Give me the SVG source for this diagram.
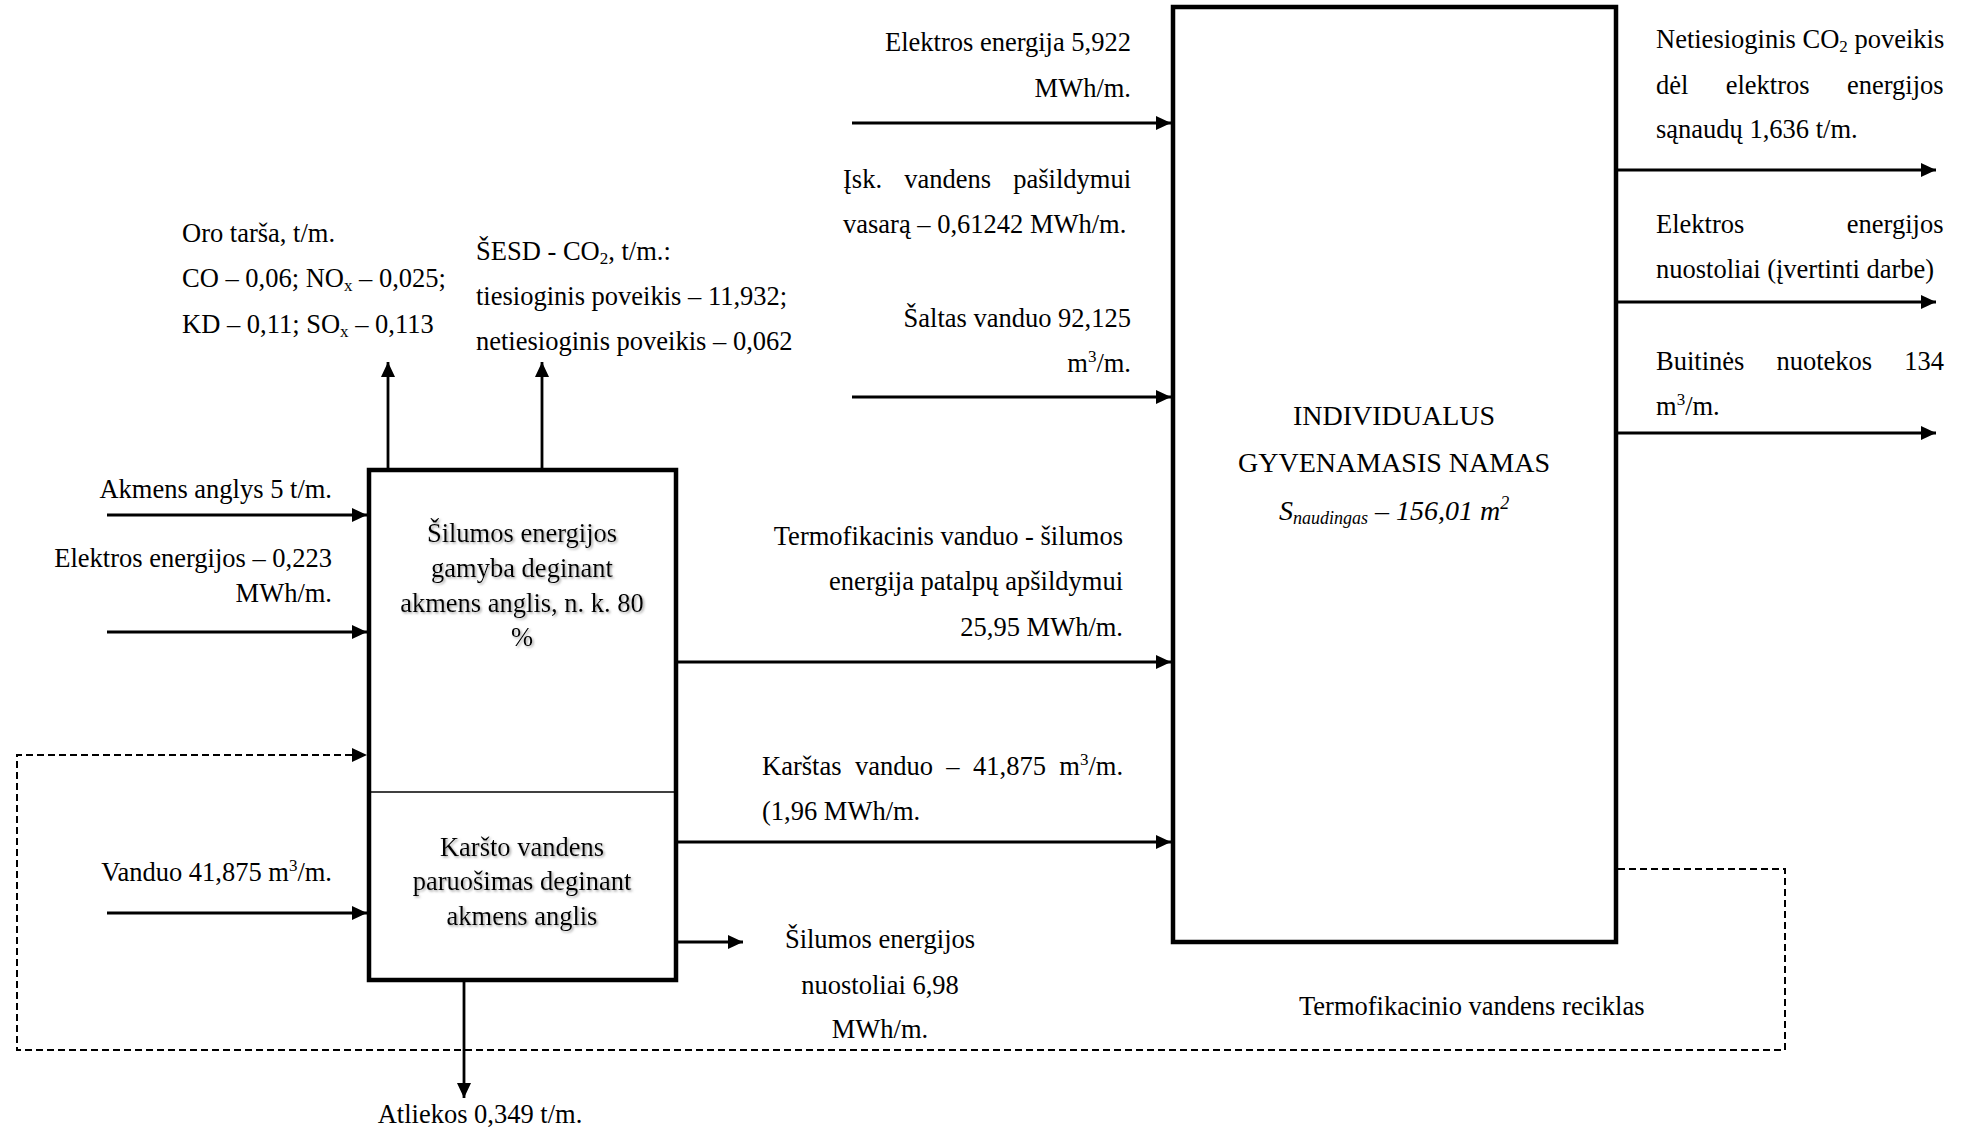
<svg xmlns="http://www.w3.org/2000/svg" width="1969" height="1128" viewBox="0 0 1969 1128">
<style>
.t{font-family:"Liberation Serif","Times New Roman",serif;font-size:26.5px;fill:#000}
.e{text-anchor:end}
.m{text-anchor:middle}
.h{font-size:28px}
.box{fill:#fff;stroke:#000;stroke-width:4.5}
.c{stroke:#000;stroke-width:2.8;fill:none}
.a{marker-end:url(#ah)}
.d{stroke-dasharray:7 4;stroke-width:2}
.sh{filter:url(#shadow)}
</style>
<defs>
<marker id="ah" markerUnits="userSpaceOnUse" markerWidth="16" markerHeight="14" refX="15" refY="7" orient="auto">
<path d="M0,0 L15,7 L0,14 Z" fill="#000"/>
</marker>
<filter id="shadow" x="-10%" y="-20%" width="130%" height="150%">
<feDropShadow dx="1.5" dy="1.5" stdDeviation="1" flood-color="#808080" flood-opacity="0.7"/>
</filter>
</defs>
<rect width="1969" height="1128" fill="#fff"/>

<g id="connectors">
<line class="c a" x1="388" y1="468" x2="388" y2="362"/>
<line class="c a" x1="542" y1="468" x2="542" y2="362"/>
<line class="c a" x1="107" y1="515" x2="367" y2="515"/>
<line class="c a" x1="107" y1="632" x2="367" y2="632"/>
<line class="c a" x1="107" y1="913" x2="367" y2="913"/>
<polyline class="c d a" points="1618,869 1785,869 1785,1050 17,1050 17,755 367,755"/>
<line class="c a" x1="464" y1="982" x2="464" y2="1098"/>
<line class="c a" x1="678" y1="942" x2="743" y2="942"/>
<line class="c a" x1="678" y1="662" x2="1171" y2="662"/>
<line class="c a" x1="678" y1="842" x2="1171" y2="842"/>
<line class="c a" x1="852" y1="123" x2="1171" y2="123"/>
<line class="c a" x1="852" y1="397" x2="1171" y2="397"/>
<line class="c a" x1="1618" y1="170" x2="1936" y2="170"/>
<line class="c a" x1="1618" y1="302" x2="1936" y2="302"/>
<line class="c a" x1="1618" y1="433" x2="1936" y2="433"/>
</g>

<g id="node-boiler">
<rect class="box" x="369" y="470" width="307" height="510"/>
<line x1="369" y1="792" x2="676" y2="792" stroke="#000" stroke-width="1.5"/>
<g class="sh">
<text class="t m" x="522" y="542">Šilumos energijos</text>
<text class="t m" x="522" y="577">gamyba deginant</text>
<text class="t m" x="522" y="612">akmens anglis, n. k. 80</text>
<text class="t m" x="522" y="646">%</text>
<text class="t m" x="522" y="856">Karšto vandens</text>
<text class="t m" x="522" y="890">paruošimas deginant</text>
<text class="t m" x="522" y="925">akmens anglis</text>
</g>
</g>

<g id="node-house">
<rect class="box" x="1173" y="7" width="443" height="935"/>
<text class="t m h" x="1394" y="425">INDIVIDUALUS</text>
<text class="t m h" x="1394" y="472">GYVENAMASIS NAMAS</text>
<text class="t m h" x="1394" y="520" font-style="italic">S<tspan font-size="18" dy="4">naudingas</tspan><tspan dy="-4"> – 156,01 m</tspan><tspan font-size="18" dy="-11">2</tspan></text>
</g>

<g id="labels-left">
<text class="t e" x="332" y="498">Akmens anglys 5 t/m.</text>
<text class="t e" x="332" y="567">Elektros energijos – 0,223</text>
<text class="t e" x="332" y="602">MWh/m.</text>
<text class="t e" x="332" y="881">Vanduo 41,875 m<tspan font-size="17" dy="-10">3</tspan><tspan dy="10">/m.</tspan></text>
<text class="t" x="182" y="242">Oro tarša, t/m.</text>
<text class="t" x="182" y="287">CO – 0,06; NO<tspan font-size="17" dy="4">x</tspan><tspan dy="-4"> – 0,025;</tspan></text>
<text class="t" x="182" y="333">KD – 0,11; SO<tspan font-size="17" dy="4">x</tspan><tspan dy="-4"> – 0,113</tspan></text>
<text class="t" x="476" y="260">ŠESD - CO<tspan font-size="17" dy="4">2</tspan><tspan dy="-4">, t/m.:</tspan></text>
<text class="t" x="476" y="305">tiesioginis poveikis – 11,932;</text>
<text class="t" x="476" y="350">netiesioginis poveikis – 0,062</text>
<text class="t m" x="480" y="1123">Atliekos 0,349 t/m.</text>
<text class="t m" x="880" y="948">Šilumos energijos</text>
<text class="t m" x="880" y="994">nuostoliai 6,98</text>
<text class="t m" x="880" y="1038">MWh/m.</text>
</g>

<g id="labels-middle">
<text class="t e" x="1131" y="51">Elektros energija 5,922</text>
<text class="t e" x="1131" y="97">MWh/m.</text>
<text class="t" x="843" y="188" word-spacing="15.6">Įsk. vandens pašildymui</text>
<text class="t" x="843" y="233">vasarą – 0,61242 MWh/m.</text>
<text class="t e" x="1131" y="327">Šaltas vanduo 92,125</text>
<text class="t e" x="1131" y="372">m<tspan font-size="17" dy="-10">3</tspan><tspan dy="10">/m.</tspan></text>
<text class="t e" x="1123" y="545">Termofikacinis vanduo - šilumos</text>
<text class="t e" x="1123" y="590">energija patalpų apšildymui</text>
<text class="t e" x="1123" y="636">25,95 MWh/m.</text>
<text class="t" x="762" y="775" word-spacing="6.8">Karštas vanduo – 41,875 m<tspan font-size="17" dy="-10">3</tspan><tspan dy="10">/m.</tspan></text>
<text class="t" x="762" y="820">(1,96 MWh/m.</text>
<text class="t" x="1299" y="1015">Termofikacinio vandens reciklas</text>
</g>

<g id="labels-right">
<text class="t" x="1656" y="48">Netiesioginis CO<tspan font-size="17" dy="4">2</tspan><tspan dy="-4"> poveikis</tspan></text>
<text class="t" x="1656" y="94" word-spacing="30.7">dėl elektros energijos</text>
<text class="t" x="1656" y="138">sąnaudų 1,636 t/m.</text>
<text class="t" x="1656" y="233" word-spacing="95.9">Elektros energijos</text>
<text class="t" x="1656" y="278">nuostoliai (įvertinti darbe)</text>
<text class="t" x="1656" y="370" word-spacing="25.5">Buitinės nuotekos 134</text>
<text class="t" x="1656" y="415">m<tspan font-size="17" dy="-10">3</tspan><tspan dy="10">/m.</tspan></text>
</g>
</svg>
